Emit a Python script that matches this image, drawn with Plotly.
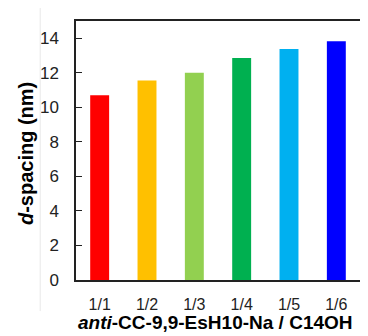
import plotly.graph_objects as go

categories = ["1/1", "1/2", "1/3", "1/4", "1/5", "1/6"]
d_spacing = [10.7, 11.55, 12.0, 12.85, 13.38, 13.82]
colors = ["#FF0000", "#FFC000", "#92D050", "#00B050", "#00B0F0", "#0000FF"]
y_ticks = [0, 2, 4, 6, 8, 10, 12, 14]
x_title = "<b><i>anti</i>-CC-9,9-EsH10-Na / C14OH</b>"
y_title = "<b><i>d</i>-spacing (nm)</b>"

fig = go.Figure()
fig.add_trace(go.Bar(
    x=categories, y=d_spacing,
    marker=dict(color=colors, line=dict(width=0)),
    width=0.4,
))

font = "Liberation Sans, Arial, sans-serif"
# page body has an 8px default margin, so the figure is 8px smaller
fig.update_layout(
    width=360, height=328,
    margin=dict(l=68, r=6, t=13, b=56),
    paper_bgcolor="white", plot_bgcolor="white",
    showlegend=False,
    font=dict(family=font, color="black", size=16),
    xaxis=dict(
        showline=True, linecolor="#222222", linewidth=1.5, mirror=True,
        ticks="", showgrid=False, tickfont=dict(size=16, color="#222222"),
        ticklabelstandoff=9,
    ),
    yaxis=dict(
        range=[0, 15], tickvals=y_ticks,
        showline=True, linecolor="#222222", linewidth=1.5, mirror=True,
        ticks="inside", ticklen=6, tickwidth=1.2, tickcolor="#222222",
        ticklabelstandoff=12,
        showgrid=False, zeroline=False, tickfont=dict(size=17, color="#222222"),
    ),
    annotations=[
        dict(text=x_title, xref="paper", yref="paper", x=0.49, y=-0.165,
             xanchor="center", yanchor="middle", showarrow=False,
             font=dict(size=19, color="black")),
        dict(text=y_title, xref="paper", yref="paper", x=-0.178, y=0.488,
             xanchor="center", yanchor="middle", textangle=-90, showarrow=False,
             font=dict(size=20, color="black")),
    ],
)
fig.add_shape(type="line", xref="paper", yref="paper",
              x0=-0.126, x1=-0.126, y0=-0.12, y1=1.05,
              line=dict(color="#e8e8e8", width=1))
fig.write_html("out.html")
